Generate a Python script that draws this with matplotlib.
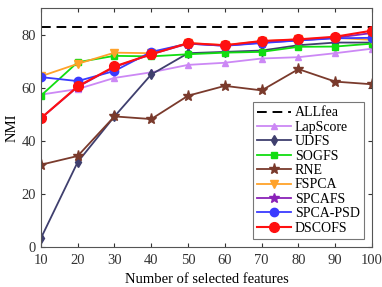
import matplotlib
matplotlib.use("Agg")
import matplotlib.pyplot as plt

x = [10, 20, 30, 40, 50, 60, 70, 80, 90, 100]
allfea = 82.7
lapscore = [57.4, 59.5, 63.7, 65.8, 68.6, 69.4, 71.0, 71.5, 73.0, 74.7]
udfs = [3.3, 32.0, 49.2, 65.0, 73.0, 73.5, 74.0, 76.0, 77.0, 77.0]
sogfs = [57.0, 69.6, 72.0, 71.8, 72.6, 73.2, 73.5, 75.4, 75.5, 76.6]
rne = [31.0, 34.3, 49.2, 48.2, 57.0, 60.7, 59.0, 67.0, 62.3, 61.3]
fspca = [64.3, 69.0, 73.2, 73.0, 76.8, 76.0, 77.5, 78.2, 78.8, 78.0]
spcafs = [48.5, 60.3, 67.8, 72.6, 76.6, 75.8, 77.0, 77.8, 78.8, 80.6]
spcapsd = [64.0, 62.5, 66.3, 73.5, 76.6, 75.8, 76.8, 77.8, 78.6, 78.8]
dscofs = [48.5, 60.5, 68.0, 72.6, 76.8, 76.0, 77.6, 78.2, 79.2, 81.5]

plt.rcParams['font.family'] = ['Liberation Serif', 'DejaVu Serif']
plt.rcParams['font.size'] = 10

fig = plt.figure(figsize=(3.82, 2.87), dpi=100)
ax = fig.add_axes([0.107, 0.139, 0.867, 0.833])

ax.axhline(allfea, color='black', linestyle='--', linewidth=1.4, dashes=(5, 3), label='ALLfea')
ms = 5
ax.plot(x, lapscore, color='#cc88f5', marker='^', ms=ms, lw=1.3, label='LapScore')
ax.plot(x, udfs, color='#3f3f6e', marker='d', ms=ms, lw=1.3, label='UDFS')
ax.plot(x, sogfs, color='#11dd11', marker='s', ms=ms, lw=1.3, label='SOGFS')
ax.plot(x, rne, color='#7a3a2c', marker='*', ms=ms + 3, lw=1.3, label='RNE')
ax.plot(x, fspca, color='#ffa22a', marker='v', ms=ms + 1, lw=1.3, label='FSPCA')
ax.plot(x, spcafs, color='#8a22b8', marker='*', ms=ms + 2, lw=1.3, label='SPCAFS')
ax.plot(x, spcapsd, color='#3a3aff', marker='o', ms=ms + 1, lw=1.3, label='SPCA-PSD')
ax.plot(x, dscofs, color='#ff1010', marker='o', ms=ms + 2, lw=1.5, label='DSCOFS')

ax.set_xlim(10, 100)
ax.set_ylim(0, 90)
ax.set_xticks(x)
ax.set_yticks([0, 20, 40, 60, 80])
ax.tick_params(direction='in', top=True, right=True, length=3, labelsize=10.5, colors='#333333')
ax.tick_params(axis='x', pad=5)
for s in ax.spines.values():
    s.set_color('#555555')
ax.set_xlabel('Number of selected features', fontsize=10.5, labelpad=4)
ax.set_ylabel('NMI', fontsize=10.5, labelpad=2)

leg = ax.legend(loc='lower right', fontsize=10, frameon=True, fancybox=False,
                edgecolor='#555555', handlelength=2.4, labelspacing=0.1,
                borderpad=0.3, handletextpad=0.3, borderaxespad=0.6)
leg.get_frame().set_linewidth(0.8)

fig.savefig('out.png', dpi=100)
